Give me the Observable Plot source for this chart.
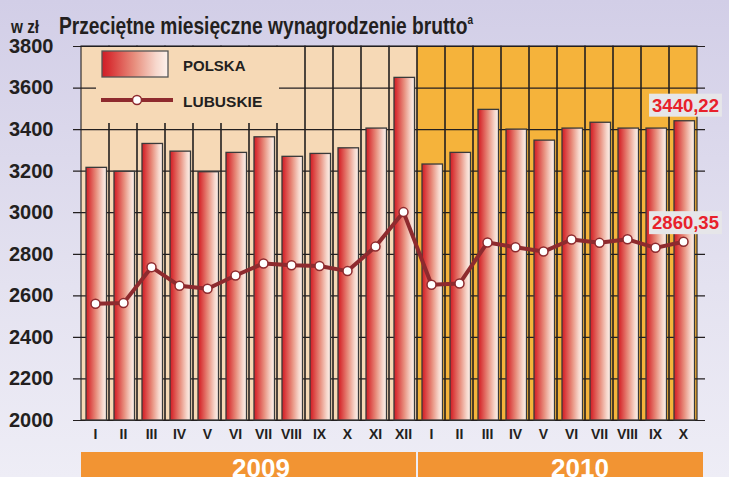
<!DOCTYPE html>
<html>
<head>
<meta charset="utf-8">
<script src="https://cdn.jsdelivr.net/npm/d3@7"></script>
<script src="https://cdn.jsdelivr.net/npm/@observablehq/plot@0.6"></script>
<style>
  html, body { margin: 0; padding: 0; width: 729px; height: 477px; overflow: hidden; }
  body { background: linear-gradient(to bottom, #D2CEE7 0%, #E4E2F0 60%, #EEEDF6 100%); font-family: "Liberation Sans", Arial, sans-serif; }
  #chart { position: relative; width: 729px; height: 477px; }
</style>
</head>
<body>
<div id="chart"></div>
<script>
// ---- data ----
const years = [2009, 2010];
const months2009 = ["I","II","III","IV","V","VI","VII","VIII","IX","X","XI","XII"];
const months2010 = ["I","II","III","IV","V","VI","VII","VIII","IX","X"];
const polska2009 = [3216, 3197, 3331, 3294, 3195, 3288, 3363, 3269, 3283, 3310, 3405, 3649];
const polska2010 = [3232, 3288, 3495, 3400, 3347, 3405, 3433, 3405, 3405, 3440.22];
const lubuskie2009 = [2562, 2565, 2738, 2648, 2634, 2698, 2756, 2747, 2744, 2719, 2837, 3003];
const lubuskie2010 = [2653, 2659, 2857, 2834, 2813, 2871, 2855, 2872, 2831, 2860.35];
const yTicks = [2000, 2200, 2400, 2600, 2800, 3000, 3200, 3400, 3600, 3800];
const seriesNames = ["POLSKA", "LUBUSKIE"];
const titleText = "Przeciętne miesięczne wynagrodzenie brutto";
const unitText = "w zł";

// ---- table ----
const rows = [
  ...months2009.map((m, i) => ({key: `2009-${m}`, year: 2009, month: m, polska: polska2009[i], lubuskie: lubuskie2009[i]})),
  ...months2010.map((m, i) => ({key: `2010-${m}`, year: 2010, month: m, polska: polska2010[i], lubuskie: lubuskie2010[i]}))
];
const last = rows[rows.length - 1];
const fmt = v => d3.format(".2f")(v).replace(".", ",");
const labelTexts = [fmt(last.polska), fmt(last.lubuskie)];

const ink = "#231F20";
const lineColor = "#8E2A2E";

const chart = Plot.plot({
  width: 729,
  height: 477,
  marginLeft: 73,
  marginRight: 24,
  marginTop: 46,
  marginBottom: 57,
  style: {background: "transparent", fontFamily: "'Liberation Sans', Arial, sans-serif", overflow: "visible"},
  x: {type: "band", domain: rows.map(d => d.key), padding: 0, axis: null},
  y: {domain: [2000, 3800], axis: null},
  marks: [
    Plot.barY(rows.filter(d => d.year === 2009), {x: "key", y1: 2000, y2: 3800, fill: "#F6D9B6"}),
    Plot.barY(rows.filter(d => d.year === 2010), {x: "key", y1: 2000, y2: 3800, fill: "#F5B33B"}),
    Plot.ruleY(yTicks, {stroke: ink, strokeWidth: 1.2}),
    Plot.barY(rows, {x: "key", y1: 2000, y2: 3800, fill: "none", stroke: ink, strokeWidth: 1.1}),
    Plot.barY(rows, {x: "key", y1: 2000, y2: "polska", fill: "url(#barGrad)", stroke: "#3a3a3a", strokeWidth: 1.3, insetLeft: 5, insetRight: 2.5}),
    Plot.line(rows, {x: "key", y: "lubuskie", stroke: lineColor, strokeWidth: 4, strokeLinejoin: "round"}),
    Plot.dot(rows, {x: "key", y: "lubuskie", r: 4.5, fill: "white", stroke: lineColor, strokeWidth: 1.5}),
    Plot.text(yTicks, {y: d => d, text: d => String(d), frameAnchor: "left", textAnchor: "end", dx: -20, fontSize: 20, fontWeight: "bold", fill: ink}),
    Plot.text(rows, {x: "key", text: "month", frameAnchor: "bottom", dy: 18, fontSize: 14, fontWeight: "bold", fill: ink}),
    Plot.text([last], {x: "key", y: "polska", text: d => fmt(d.polska), dx: 2, dy: -15.5, fill: "#E8212B", fontSize: 18.5, fontWeight: "bold"}),
    Plot.text([last], {x: "key", y: "lubuskie", text: d => fmt(d.lubuskie), dx: 2, dy: -18.5, fill: "#E8212B", fontSize: 18.5, fontWeight: "bold"})
  ]
});

document.getElementById("chart").append(chart);

const svg = d3.select(chart);

// gradient defs
const defs = svg.insert("defs", ":first-child");
const grad = defs.append("linearGradient").attr("id", "barGrad").attr("x1", 0).attr("x2", 1).attr("y1", 0).attr("y2", 0);
[[0, "#CE1E27"], [0.12, "#D83436"], [0.5, "#E8907F"], [0.82, "#F7D8CD"], [1, "#FDF2EC"]].forEach(([o, c]) =>
  grad.append("stop").attr("offset", o).attr("stop-color", c));

// value label boxes
svg.selectAll("text").filter(function() { return labelTexts.includes(this.textContent); }).each(function() {
  const b = this.getBBox();
  const t = this.getAttribute("transform");
  const r = document.createElementNS("http://www.w3.org/2000/svg", "rect");
  r.setAttribute("x", b.x - 3); r.setAttribute("y", b.y - 1);
  r.setAttribute("width", b.width + 6); r.setAttribute("height", b.height + 2);
  r.setAttribute("fill", "#E6E6E9");
  if (t) r.setAttribute("transform", t);
  this.parentNode.insertBefore(r, this);
});

// year band below the axis, positioned with the x scale
const xs = chart.scale("x");
const bw = xs.bandwidth;
const bandTop = 452;
const yearGroups = years.map(y => rows.filter(d => d.year === y));
const band = svg.append("g").attr("aria-label", "year-band");
yearGroups.forEach((g, i) => {
  const x1 = xs.apply(g[0].key) + (i === 0 ? 0 : 1);
  const x2 = xs.apply(g[g.length - 1].key) + bw + (i === 0 ? -1 : 6);
  band.append("rect").attr("x", x1).attr("y", bandTop).attr("width", x2 - x1).attr("height", 30).attr("fill", "#F29433");
  const anchorKey = i === 0 ? "2009-VII" : "2010-VI";
  const cx = xs.apply(anchorKey) + bw / 2 + (i === 0 ? -2 : 9);
  band.append("text").attr("x", cx).attr("y", 476.5).attr("text-anchor", "middle")
    .attr("fill", "white").attr("font-size", 26).attr("font-weight", "bold").text(years[i]);
});

// title and unit
const title = svg.append("text").attr("transform", "translate(59,33.5) scale(0.835,1)")
  .attr("text-anchor", "start").attr("fill", ink).attr("font-size", 23).attr("font-weight", "bold");
title.append("tspan").text(titleText);
title.append("tspan").attr("font-size", 12).attr("dy", -10).text("a");
svg.append("text").attr("transform", "translate(11,33) scale(0.85,1)").attr("text-anchor", "start")
  .attr("fill", ink).attr("font-size", 18).attr("font-weight", "bold").text(unitText);

// legend
const lg = svg.append("g").attr("aria-label", "legend").attr("text-anchor", "start");
lg.append("rect").attr("x", 96).attr("y", 47).attr("width", 183).attr("height", 76).attr("fill", "#F6D9B6");
lg.append("rect").attr("x", 102).attr("y", 51).attr("width", 66).attr("height", 26)
  .attr("fill", "url(#barGrad)").attr("stroke", "#555").attr("stroke-width", 1.3);
lg.append("line").attr("x1", 101).attr("x2", 173).attr("y1", 100).attr("y2", 100)
  .attr("stroke", lineColor).attr("stroke-width", 4);
lg.append("circle").attr("cx", 137).attr("cy", 100).attr("r", 4.5)
  .attr("fill", "white").attr("stroke", lineColor).attr("stroke-width", 1.5);
lg.append("text").attr("x", 183).attr("y", 71).attr("fill", ink).attr("font-size", 15).attr("font-weight", "bold").text(seriesNames[0]);
lg.append("text").attr("x", 183).attr("y", 106.5).attr("fill", ink).attr("font-size", 15.5).attr("font-weight", "bold").text(seriesNames[1]);
</script>
</body>
</html>
